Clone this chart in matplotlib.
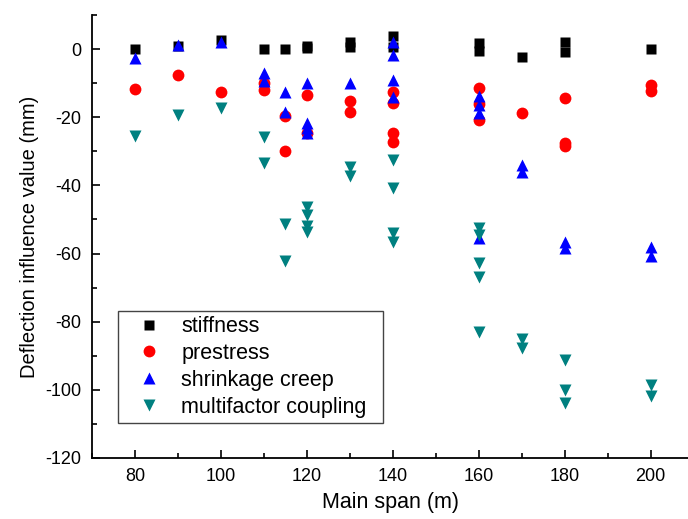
import matplotlib.pyplot as plt
from matplotlib.ticker import MultipleLocator

plt.rcParams['font.family'] = ['Liberation Sans', 'DejaVu Sans']
plt.rcParams['axes.unicode_minus'] = False

# ── data (main span m, deflection mm) ──
stiff_x = [80, 90, 100, 110, 115, 120, 120, 130, 130, 140, 140, 160, 160, 170, 180, 180, 200]
stiff_y = [0, 1, 2.6, 0, 0, 0.4, 0.8, 2.1, 0.5, 3.8, 0.5, 1.7, -0.5, -2.2, 2.1, -0.8, 0]

pre_x = [80, 90, 100, 110, 110, 115, 115, 120, 120, 130, 130, 140, 140, 140, 140,
         160, 160, 160, 170, 180, 180, 180, 200, 200]
pre_y = [-11.7, -7.6, -12.5, -10, -12, -19.7, -29.9, -13.5, -24.5, -15.3, -18.6,
         -12.5, -15.7, -24.5, -27.2, -11.5, -16, -20.7, -18.7, -14.5, -27.7, -28.5,
         -10.6, -12.3]

shr_x = [80, 90, 100, 110, 110, 115, 115, 120, 120, 120, 120, 130, 140, 140, 140, 140,
         160, 160, 160, 160, 170, 170, 180, 180, 200, 200]
shr_y = [-2.7, 1.2, 2.1, -7.1, -9.4, -12.5, -18.4, -10.1, -21.8, -23.2, -24.5, -9.9,
         2.1, -1.6, -9.1, -14.2, -13.8, -16.4, -18.9, -55.5, -34, -36, -56.5, -58.5,
         -58, -60.7]

multi_x = [80, 90, 100, 110, 110, 115, 115, 120, 120, 120, 120, 130, 130,
           140, 140, 140, 140, 160, 160, 160, 160, 160, 170, 170, 180, 180, 180, 200, 200]
multi_y = [-25.5, -19.4, -17.4, -25.7, -33.5, -51.2, -62.1, -46.4, -48.7, -51.9, -53.6,
           -34.5, -37.2, -32.6, -40.9, -54.1, -56.5, -52.6, -54.6, -62.9, -67, -83,
           -85.2, -87.8, -91.1, -99.9, -104, -98.6, -101.8]

fig = plt.figure(figsize=(6.88, 5.19), dpi=100)
ax = fig.add_axes([92 / 688, 61 / 519, 1 - 92 / 688, 443 / 519])

ax.plot(stiff_x, stiff_y, 's', color='black', ms=7.5, mec='none', label='stiffness')
ax.plot(pre_x, pre_y, 'o', color='#ff0000', ms=8.5, mec='none', label='prestress')
ax.plot(shr_x, shr_y, '^', color='#0000ff', ms=9, mec='none', label='shrinkage creep')
ax.plot(multi_x, multi_y, 'v', color='#008080', ms=9, mec='none', label='multifactor coupling')

ax.set_xlim(70, 208.7)
ax.set_ylim(-120, 10)
ax.xaxis.set_major_locator(MultipleLocator(20))
ax.xaxis.set_minor_locator(MultipleLocator(10))
ax.yaxis.set_major_locator(MultipleLocator(20))
ax.yaxis.set_minor_locator(MultipleLocator(10))
ax.tick_params(which='both', direction='in', width=1.2, labelsize=13)
ax.tick_params(which='major', length=6)
ax.tick_params(which='minor', length=3.5)
ax.tick_params(axis='y', pad=8)
ax.tick_params(axis='x', pad=7)

for s in ['top', 'right']:
    ax.spines[s].set_visible(False)
for s in ['left', 'bottom']:
    ax.spines[s].set_linewidth(1.3)

ax.set_xlabel('Main span (m)', fontsize=15.5, labelpad=5)
ax.set_ylabel('Deflection influence value (mm)', fontsize=14.5, labelpad=4)

leg = ax.legend(loc='lower left', bbox_to_anchor=(0.044, 0.079, 265 / 596, 0.2),
                mode='expand', fontsize=15.5,
                frameon=True, fancybox=False, edgecolor='#444444', framealpha=1,
                borderpad=0.25, handlelength=2.4, handletextpad=0.28, labelspacing=0.27,
                borderaxespad=0)
leg.get_frame().set_linewidth(1.0)

fig.savefig('out.png', dpi=100)
